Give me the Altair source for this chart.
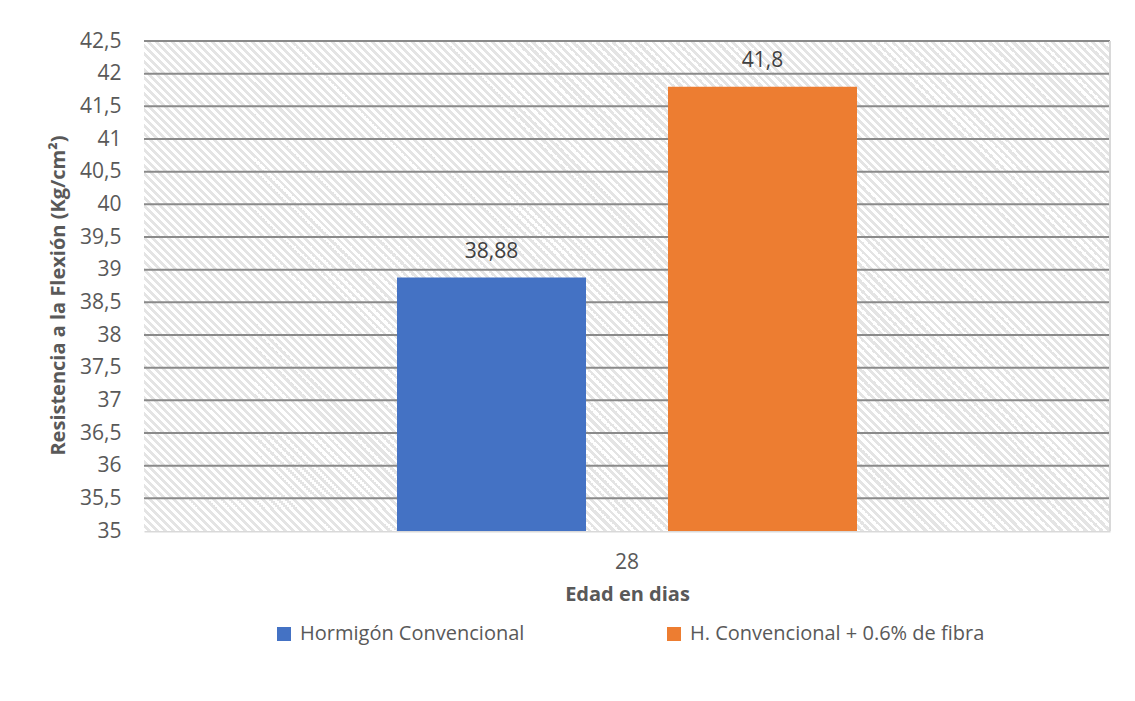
import altair as alt
import pandas as pd

# Series, category and values
series = ["Hormigón Convencional", "H. Convencional + 0.6% de fibra"]
edad = ["28", "28"]
resistencia = [38.88, 41.8]
colors = ["#4472C4", "#ED7D31"]

# Y axis ticks (kg/cm²)
y_ticks = [35, 35.5, 36, 36.5, 37, 37.5, 38, 38.5, 39, 39.5, 40, 40.5, 41, 41.5, 42, 42.5]

W, H = 966, 490
FONT = "Open Sans"
LABEL_SIZE = 21
TITLE_SIZE = 20

df = pd.DataFrame({"serie": series, "edad": edad, "valor": resistencia})
grid_df = pd.DataFrame({"valor": y_ticks[1:]})

y_scale = alt.Scale(domain=[y_ticks[0], y_ticks[-1]], nice=False, zero=False)
y_axis = alt.Axis(
    title="Resistencia a la Flexión (Kg/cm²)", values=y_ticks, grid=False,
    ticks=False, domain=False,
    labelExpr="replace(toString(datum.value), '.', ',')",
    labelFont=FONT, labelFontSize=LABEL_SIZE, labelColor="#595959", labelPadding=23,
    titleFont=FONT, titleFontSize=TITLE_SIZE, titleFontWeight="bold", titleColor="#595959",
    titlePadding=11, titleY=254,
)

# Diagonal hatch for the plot background, built as a striped linear gradient
r = H / W
k = (1 + r) / (1 + r * r)
n_stripes = int(round((W + H) / 8))
stops = []
for i in range(n_stripes):
    a = i / n_stripes
    m = (i + 0.5) / n_stripes
    b = (i + 1) / n_stripes
    stops += [
        alt.GradientStop(offset=a, color="#ffffff"),
        alt.GradientStop(offset=m, color="#ffffff"),
        alt.GradientStop(offset=m, color="#e4e4e4"),
        alt.GradientStop(offset=b, color="#e4e4e4"),
    ]
hatch_fill = alt.LinearGradient(gradient="linear", stops=stops, x1=0, y1=1, x2=k, y2=1 - k * r)

hatch = alt.Chart(df).mark_rect(fill=hatch_fill, strokeWidth=0).encode(
    x=alt.value(0), x2=alt.value("width"),
    y=alt.value(0), y2=alt.value("height"),
)

grid = alt.Chart(grid_df).mark_rule(color="#8a8a8a", strokeWidth=2).encode(
    x=alt.value(0), x2=alt.value("width"),
    y=alt.Y("valor:Q", scale=y_scale, axis=y_axis),
)

right_edge = alt.Chart(df).mark_rule(color="#d9d9d9", strokeWidth=2).encode(
    x=alt.value("width"), y=alt.value(0), y2=alt.value("height"),
)

x_enc = alt.X(
    "edad:N",
    scale=alt.Scale(paddingInner=0, paddingOuter=0.55),
    axis=alt.Axis(
        title="Edad en dias", labelAngle=0, ticks=False,
        domainColor="#d9d9d9", domainWidth=2,
        labelFont=FONT, labelFontSize=LABEL_SIZE, labelColor="#595959", labelPadding=20,
        titleFont=FONT, titleFontSize=TITLE_SIZE, titleFontWeight="bold", titleColor="#595959",
        titlePadding=12,
    ),
)
xo_enc = alt.XOffset("serie:N", sort=series, scale=alt.Scale(paddingInner=0.3026, paddingOuter=0))

bars = alt.Chart(df).mark_bar().encode(
    x=x_enc,
    xOffset=xo_enc,
    y=alt.Y("valor:Q", scale=y_scale, axis=y_axis),
    y2=alt.Y2(datum=y_ticks[0]),
    color=alt.Color(
        "serie:N", sort=series,
        scale=alt.Scale(domain=series, range=colors),
        legend=alt.Legend(
            title=None, orient="none", direction="horizontal",
            legendX=130, legendY=583,
            symbolType="square", symbolSize=196, symbolStrokeWidth=0,
            labelFont=FONT, labelFontSize=20, labelColor="#595959",
            labelOffset=6, labelLimit=0, columnPadding=139,
        ),
    ),
)

labels = alt.Chart(df).transform_calculate(
    etiqueta="replace(toString(datum.valor), '.', ',')"
).mark_text(font=FONT, fontSize=LABEL_SIZE, color="#404040", dy=-26).encode(
    x=alt.X("edad:N"),
    xOffset=xo_enc,
    y=alt.Y("valor:Q", scale=y_scale, axis=y_axis),
    text="etiqueta:N",
)

chart = alt.layer(hatch, grid, right_edge, bars, labels).properties(
    width=W, height=H,
    autosize=alt.AutoSizeParams(type="none"),
    padding={"left": 144, "top": 41, "right": 25, "bottom": 170},
    background="#ffffff",
).configure_view(stroke=None)

chart.save("out.html", embed_options={"renderer": "svg", "actions": False})
